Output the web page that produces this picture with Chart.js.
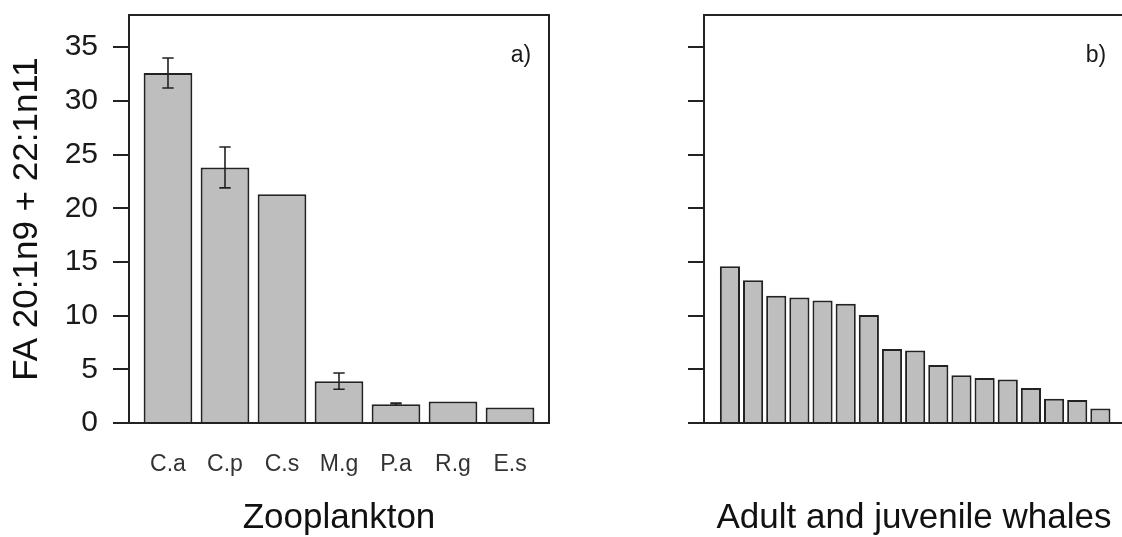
<!DOCTYPE html>
<html>
<head>
<meta charset="utf-8">
<script src="https://cdn.jsdelivr.net/npm/chart.js@4/dist/chart.umd.min.js"></script>
<style>
  html, body { margin: 0; padding: 0; background: #fff; overflow: hidden; width: 1122px; height: 537px; }
  canvas { position: absolute; top: 0; }
  #zoo { left: 0; }
  #whales { left: 561px; }
</style>
</head>
<body>
<canvas id="zoo" width="561" height="537"></canvas>
<canvas id="whales" width="564" height="537"></canvas>
<script>
// FA 20:1n9 + 22:1n11 (% of total fatty acids)
const zooCategories = ['C.a', 'C.p', 'C.s', 'M.g', 'P.a', 'R.g', 'E.s'];
const zooMeans = [32.6, 23.8, 21.3, 3.9, 1.75, 2.0, 1.45];
const zooErrors = [1.4, 1.9, null, 0.75, 0.1, null, null];

// individual whales, sorted high to low
const whaleValues = [14.6, 13.3, 11.85, 11.7, 11.4, 11.1, 10.05, 6.9, 6.75, 5.4, 4.45, 4.2, 4.05, 3.25, 2.25, 2.15, 1.35];

const yTickValues = [0, 5, 10, 15, 20, 25, 30, 35];
const yMax = 38;

const FONT = '"Liberation Sans", Arial, Helvetica, sans-serif';
Chart.defaults.font.family = FONT;
Chart.defaults.color = '#1a1a1a';

const BAR_FILL = '#bebebe';
const INK = '#222222';

// mean +/- error whiskers, positioned through the chart's own scales
const errorBars = {
  id: 'errorBars',
  afterDatasetsDraw(chart, args, opts) {
    const errs = opts.errors;
    if (!errs) return;
    const meta = chart.getDatasetMeta(0);
    const yScale = chart.scales.y;
    const data = chart.data.datasets[0].data;
    const ctx = chart.ctx;
    ctx.save();
    ctx.strokeStyle = INK;
    ctx.lineWidth = 1.6;
    meta.data.forEach((bar, i) => {
      const e = errs[i];
      if (e == null) return;
      const v = data[i].y;
      const yt = yScale.getPixelForValue(v + e);
      const yb = yScale.getPixelForValue(v - e);
      const cx = bar.x, hw = opts.capHalfWidth;
      ctx.beginPath();
      ctx.moveTo(cx, yt); ctx.lineTo(cx, yb);
      ctx.moveTo(cx - hw, yt); ctx.lineTo(cx + hw, yt);
      ctx.moveTo(cx - hw, yb); ctx.lineTo(cx + hw, yb);
      ctx.stroke();
    });
    ctx.restore();
  }
};

// plot frame and panel letter
const panelFrame = {
  id: 'panelFrame',
  afterDatasetsDraw(chart, args, opts) {
    const { left, right, top, bottom } = chart.chartArea;
    const ctx = chart.ctx;
    ctx.save();
    ctx.strokeStyle = INK;
    ctx.lineWidth = 2;
    ctx.strokeRect(left, top, right - left, bottom - top);
    ctx.fillStyle = '#1a1a1a';
    ctx.font = '23px ' + FONT;
    ctx.textAlign = 'center';
    ctx.textBaseline = 'alphabetic';
    ctx.fillText(opts.tag, right - 28, top + 46.5);
    ctx.restore();
  }
};

function yScaleOptions(width, showLabels, title) {
  return {
    min: 0,
    max: yMax,
    afterBuildTicks: s => { s.ticks = yTickValues.map(v => ({ value: v })); },
    afterFit: s => { s.width = width; },
    grid: { display: true, drawOnChartArea: false, drawTicks: true, tickLength: 16, color: INK, lineWidth: 2, tickWidth: 2 },
    border: { display: false },
    ticks: { display: showLabels, padding: 15, color: '#1a1a1a', font: { size: 30, lineHeight: 0 } },
    title: title
      ? { display: true, text: title, color: '#111', font: { size: 35, lineHeight: 1 }, padding: { top: 10, bottom: 0 } }
      : { display: false }
  };
}

new Chart(document.getElementById('zoo'), {
  type: 'bar',
  data: {
    datasets: [{
      data: zooMeans.map((v, i) => ({ x: i + 1, y: v })),
      backgroundColor: BAR_FILL,
      borderColor: INK,
      borderWidth: 2,
      borderSkipped: 'start',
      categoryPercentage: 1,
      barPercentage: 0.855
    }]
  },
  options: {
    responsive: false,
    animation: false,
    events: [],
    layout: { padding: { top: 15, right: 12, left: 0, bottom: 0 } },
    plugins: {
      legend: { display: false },
      tooltip: { enabled: false },
      errorBars: { errors: zooErrors, capHalfWidth: 5.7 },
      panelFrame: { tag: 'a)' }
    },
    scales: {
      x: {
        type: 'linear',
        offset: false,
        min: 0.316,
        max: 7.684,
        afterBuildTicks: s => { s.ticks = zooCategories.map((c, i) => ({ value: i + 1 })); },
        afterFit: s => { s.height = 114; },
        grid: { display: false, drawTicks: false, offset: false },
        border: { display: false },
        ticks: {
          padding: 30,
          color: '#333',
          autoSkip: false,
          maxRotation: 0,
          font: { size: 23, lineHeight: 1 },
          callback: v => zooCategories[Math.round(v) - 1] ?? ''
        },
        title: { display: true, text: 'Zooplankton', color: '#111', font: { size: 35, lineHeight: 1 }, padding: { top: 0, bottom: 1 } }
      },
      y: yScaleOptions(129, true, 'FA 20:1n9 + 22:1n11')
    }
  },
  plugins: [errorBars, panelFrame]
});

new Chart(document.getElementById('whales'), {
  type: 'bar',
  data: {
    datasets: [{
      data: whaleValues.map((v, i) => ({ x: i + 1, y: v })),
      backgroundColor: BAR_FILL,
      borderColor: INK,
      borderWidth: 2,
      borderSkipped: 'start',
      categoryPercentage: 1,
      barPercentage: 0.87
    }]
  },
  options: {
    responsive: false,
    animation: false,
    events: [],
    layout: { padding: { top: 15, right: 1, left: 0, bottom: 0 } },
    plugins: {
      legend: { display: false },
      tooltip: { enabled: false },
      panelFrame: { tag: 'b)' }
    },
    scales: {
      x: {
        type: 'linear',
        offset: false,
        min: -0.12,
        max: 18.02,
        afterBuildTicks: s => { s.ticks = whaleValues.map((v, i) => ({ value: i + 1 })); },
        afterFit: s => { s.height = 114; },
        grid: { display: false, drawTicks: false, offset: false },
        border: { display: false },
        ticks: { display: false },
        title: { display: true, text: 'Adult and juvenile whales', color: '#111', font: { size: 35, lineHeight: 1 }, padding: { top: 0, bottom: 1 } }
      },
      y: yScaleOptions(143, false, null)
    }
  },
  plugins: [panelFrame]
});
</script>
</body>
</html>
